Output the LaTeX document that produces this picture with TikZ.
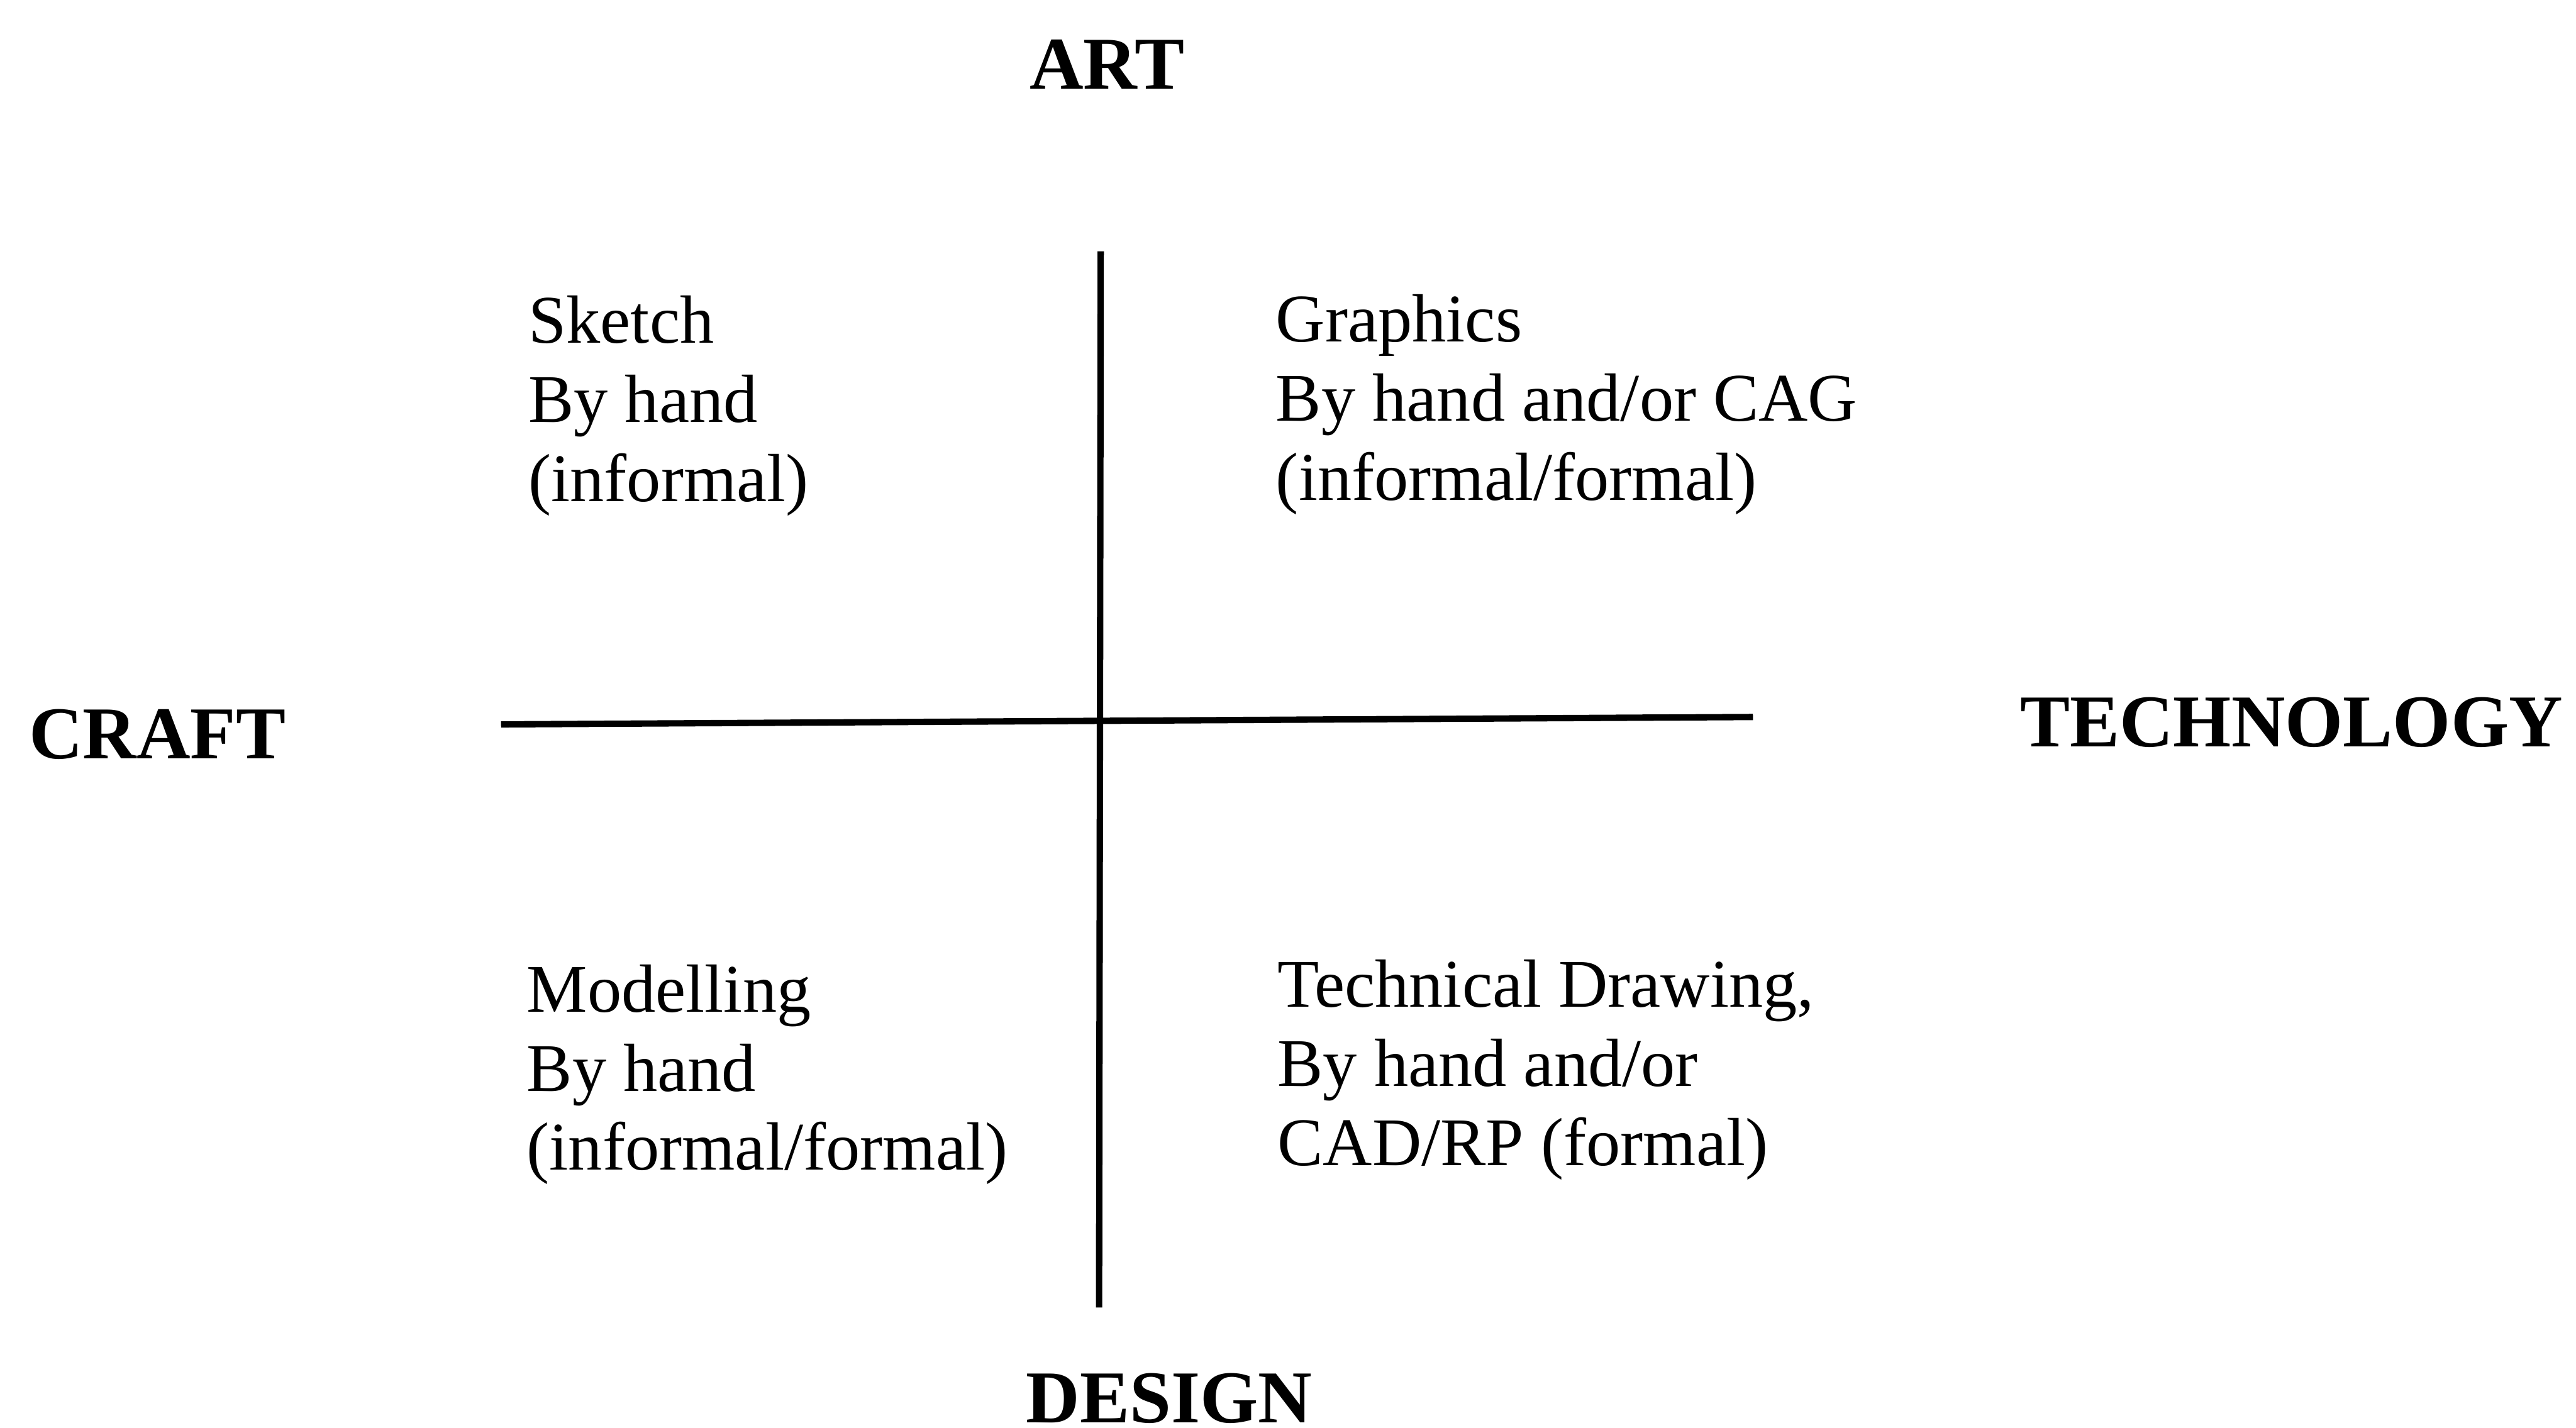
\documentclass[tikz,border=0pt]{standalone}
\usepackage{fontspec}
\setmainfont{Liberation Serif}
\begin{document}
\begin{tikzpicture}[x=0.01cm,y=-0.01cm,
  axislabel/.style={inner sep=0pt,anchor=base west,font=\fontsize{12.9}{15}\selectfont\bfseries},
  quad/.style={inner sep=0pt,anchor=base west,font=\fontsize{11.8}{13.7}\selectfont},
  axisline/.style={line width=1.1pt,black}]
\useasboundingbox (0,0) rectangle (1568,869);
% axes
\coordinate (vt) at (670,153);
\coordinate (vb) at (669,796);
\coordinate (hl) at (305,441);
\coordinate (hr) at (1067,436.5);
\draw[axisline] (vt) -- (vb);
\draw[axisline] (hl) -- (hr);
% axis labels
\node[axislabel] (art) at (626,54) {ART};
\node[axislabel] (craft) at (17,462) {CRAFT};
\node[axislabel] (tech) at (1229,454.5) {TECHNOLOGY};
\node[axislabel] (design) at (624,866) {DESIGN};
% quadrants
\node[quad] (tl) at (321,209) {\begin{tabular}[t]{@{}l@{}}Sketch\\By hand\\(informal)\end{tabular}};
\node[quad] (tr) at (776,208) {\begin{tabular}[t]{@{}l@{}}Graphics\\By hand and/or CAG\\(informal/formal)\end{tabular}};
\node[quad] (bl) at (320,616) {\begin{tabular}[t]{@{}l@{}}Modelling\\By hand\\(informal/formal)\end{tabular}};
\node[quad] (br) at (777,613) {\begin{tabular}[t]{@{}l@{}}Technical Drawing,\\By hand and/or\\CAD/RP (formal)\end{tabular}};
\end{tikzpicture}
\end{document}
